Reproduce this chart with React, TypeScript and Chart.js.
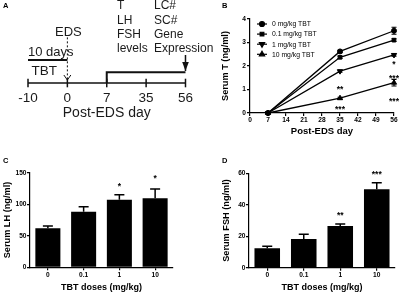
import React, { useEffect, useRef } from 'react';
import { Chart, registerables } from 'chart.js';
import { drawPoint } from 'chart.js/helpers';

Chart.register(...registerables);

const FONT = 'Arial, "Liberation Sans", Helvetica, sans-serif';

// ---------- Panel A: study timeline ----------
const timelineDays = ['-10', '0', '7', '35', '56'];
const tbtStartDay = '-10';
const edsDay = '0';
const sampleStartDay = '7';
const sampleEndDay = '56';

// ---------- Panel B: serum T time course ----------
const bDays = [7, 35, 56];
const bSeriesLabels = ['0 mg/kg TBT', '0.1 mg/kg TBT', '1 mg/kg TBT', '10 mg/kg TBT'];
const serumT_0 = [0, 2.62, 3.5];
const serumT_01 = [0, 2.37, 3.1];
const serumT_1 = [0, 1.78, 2.47];
const serumT_10 = [0, 0.63, 1.29];
const serumTErr_0 = [0, 0.05, 0.15];
const serumTErr_01 = [0, 0.05, 0.06];
const serumTErr_1 = [0, 0.04, 0.05];
const serumTErr_10 = [0, 0.04, 0.14];
const bStarDays = [35, 35, 56, 56, 56];
const bStarLevels = [1.09, 0.27, 2.18, 1.57, 0.58];
const bStarText = ['**', '***', '*', '***', '***'];

// ---------- Panels C & D: LH and FSH ----------
const doseLabels = ['0', '0.1', '1', '10'];
const serumLH = [62, 88, 107, 109.5];
const serumLHErr = [3.5, 8, 8, 14.5];
const lhStarText = ['', '', '*', '*'];
const lhStarLevels = [0, 0, 132, 144];
const serumFSH = [12.3, 18.2, 26.5, 49.8];
const serumFSHErr = [1.4, 3, 1.3, 4.2];
const fshStarText = ['', '', '**', '***'];
const fshStarLevels = [0, 0, 34.6, 60.7];

// ---------- plugins ----------
const arrowHeadPlugin = {
  id: 'arrowHeads',
  afterDatasetsDraw(chart: any) {
    const ctx = chart.ctx;
    chart.data.datasets.forEach((ds: any, i: number) => {
      if (!ds.arrowHead) return;
      const pts = chart.getDatasetMeta(i).data;
      const tip = pts[pts.length - 1];
      const prev = pts[pts.length - 2];
      const ang = Math.atan2(tip.y - prev.y, tip.x - prev.x);
      const filled = ds.arrowHead === 'filled';
      const len = filled ? 9 : 5;
      const half = filled ? 3.3 : 3.5;
      ctx.save();
      ctx.translate(tip.x, tip.y);
      ctx.rotate(ang);
      ctx.beginPath();
      ctx.moveTo(-len, -half);
      ctx.lineTo(0, 0);
      ctx.lineTo(-len, half);
      ctx.strokeStyle = ds.borderColor;
      ctx.fillStyle = ds.borderColor;
      ctx.lineWidth = 1;
      if (filled) {
        ctx.closePath();
        ctx.fill();
      } else {
        ctx.stroke();
      }
      ctx.restore();
    });
  },
};

const errorBarPlugin = {
  id: 'errorBars',
  afterDatasetsDraw(chart: any) {
    const ctx = chart.ctx;
    const ys = chart.scales.y;
    chart.data.datasets.forEach((ds: any, i: number) => {
      if (!ds.errors) return;
      const meta = chart.getDatasetMeta(i);
      meta.data.forEach((el: any, j: number) => {
        const err = ds.errors[j];
        if (!err) return;
        const raw = ds.data[j];
        const v = typeof raw === 'number' ? raw : raw.y;
        const top = ys.getPixelForValue(v + err);
        const bot = ds.errorBoth ? ys.getPixelForValue(v - err) : el.y;
        const cw = ds.capWidth || 5;
        ctx.save();
        ctx.strokeStyle = '#000';
        ctx.lineWidth = ds.errorWidth || 1.4;
        ctx.beginPath();
        ctx.moveTo(el.x, bot);
        ctx.lineTo(el.x, top);
        ctx.moveTo(el.x - cw / 2, top);
        ctx.lineTo(el.x + cw / 2, top);
        if (ds.errorBoth) {
          ctx.moveTo(el.x - cw / 2, bot);
          ctx.lineTo(el.x + cw / 2, bot);
        }
        ctx.stroke();
        ctx.restore();
      });
    });
  },
};

function makeStarsPlugin(xs: number[], levels: number[], texts: string[], size: number) {
  return {
    id: 'stars',
    afterDatasetsDraw(chart: any) {
      const ctx = chart.ctx;
      ctx.save();
      ctx.fillStyle = '#000';
      ctx.font = `bold ${size}px ${FONT}`;
      ctx.textAlign = 'center';
      ctx.textBaseline = 'alphabetic';
      texts.forEach((t, i) => {
        if (!t) return;
        const px = chart.scales.x.getPixelForValue(xs[i]);
        const py = chart.scales.y.getPixelForValue(levels[i]);
        ctx.fillText(t, px, py + size * 0.57);
      });
      ctx.restore();
    },
  };
}

const seriesLegendPlugin = {
  id: 'seriesLegend',
  afterDraw(chart: any) {
    const ctx = chart.ctx;
    const { left, top } = chart.chartArea;
    ctx.save();
    chart.data.datasets.forEach((ds: any, i: number) => {
      const y = top + 5 + i * 10.1;
      ctx.strokeStyle = '#000';
      ctx.fillStyle = '#000';
      ctx.lineWidth = 1.2;
      ctx.beginPath();
      ctx.moveTo(left + 7, y);
      ctx.lineTo(left + 17, y);
      ctx.stroke();
      drawPoint(ctx, { pointStyle: ds.pointStyle, rotation: ds.pointRotation || 0, radius: ds.pointRadius, borderWidth: 1 }, left + 12, y);
      ctx.font = `6.8px ${FONT}`;
      ctx.textBaseline = 'middle';
      ctx.textAlign = 'left';
      ctx.fillText(ds.label, left + 22, y + 0.5);
    });
    ctx.restore();
  },
};

// ---------- shared axis styling ----------
const tickFont = { family: FONT, size: 6.6, weight: 'bold' as const };
const titleFont = (size: number) => ({ family: FONT, size, weight: 'bold' as const });
const axisBase = () => ({
  border: { display: true, color: '#000', width: 1.2 },
  grid: { display: true, drawOnChartArea: false, drawTicks: true, tickLength: 3, color: '#000', lineWidth: 1.2, offset: false },
});

function useChart(ref: React.RefObject<HTMLCanvasElement>, build: () => any) {
  useEffect(() => {
    if (!ref.current) return;
    const chart = new Chart(ref.current, build());
    return () => chart.destroy();
  }, []);
}

const ix = (d: string) => timelineDays.indexOf(d);

function PanelA() {
  const ref = useRef<HTMLCanvasElement>(null);
  useChart(ref, () => {
    const tbtLevel = 2.77;
    const edsTop = 5.5;
    const edsTip = 0.36;
    const bracketLevel = 1.29;
    const sampleTop = 3.37;
    const sampleTip = 1.45;
    const black = '#111';
    return {
      type: 'line',
      data: {
        datasets: [
          {
            data: timelineDays.map((d) => ({ x: ix(d), y: 0 })),
            borderColor: black, borderWidth: 1.6, pointStyle: 'line', pointRotation: 90,
            pointRadius: 4.3, pointBorderWidth: 1.5, pointBorderColor: black, clip: false,
          },
          {
            data: [{ x: ix(tbtStartDay), y: tbtLevel }, { x: ix(edsDay), y: tbtLevel }],
            borderColor: black, borderWidth: 1.8, pointRadius: 0, clip: false,
          },
          {
            data: [{ x: ix(edsDay), y: edsTop }, { x: ix(edsDay), y: edsTip }],
            borderColor: black, borderWidth: 1, borderDash: [2, 2], pointRadius: 0, clip: false, arrowHead: 'open',
          },
          {
            data: [{ x: ix(sampleStartDay), y: 0 }, { x: ix(sampleStartDay), y: bracketLevel }, { x: ix(sampleEndDay), y: bracketLevel }],
            borderColor: black, borderWidth: 2, pointRadius: 0, clip: false,
          },
          {
            data: [{ x: ix(sampleEndDay), y: sampleTop }, { x: ix(sampleEndDay), y: sampleTip }],
            borderColor: black, borderWidth: 1.5, pointRadius: 0, clip: false, arrowHead: 'filled',
          },
        ],
      },
      options: {
        animation: false, responsive: false, devicePixelRatio: 1,
        layout: { autoPadding: false, padding: { left: 28, right: 10, top: 0, bottom: 0 } },
        plugins: { legend: { display: false }, tooltip: { enabled: false } },
        scales: {
          x: {
            type: 'linear', min: 0, max: timelineDays.length - 1,
            grid: { display: false, drawTicks: false, tickLength: 0 }, border: { display: false },
            afterBuildTicks: (s: any) => { s.ticks = timelineDays.map((_, i) => ({ value: i })); },
            afterFit: (s: any) => { s.height = 42; },
            ticks: {
              color: '#1a1a1a', font: { family: FONT, size: 13.5 }, padding: 7, maxRotation: 0, autoSkip: false,
              callback: (v: any) => timelineDays[v] ?? '',
            },
            title: { display: true, text: 'Post-EDS day', color: '#1a1a1a', font: { family: FONT, size: 14 }, padding: { top: 0, bottom: 3.6 } },
          },
          y: { display: false, min: 0, max: 10 },
        },
      },
      plugins: [arrowHeadPlugin],
    };
  });
  return <canvas ref={ref} width={200} height={125} style={{ position: 'absolute', left: 0, top: 0, display: 'block' }} />;
}

function PanelB() {
  const ref = useRef<HTMLCanvasElement>(null);
  useChart(ref, () => {
    const series = [serumT_0, serumT_01, serumT_1, serumT_10];
    const errs = [serumTErr_0, serumTErr_01, serumTErr_1, serumTErr_10];
    const styles = [
      { pointStyle: 'circle', pointRotation: 0, pointRadius: 2.5 },
      { pointStyle: 'rect', pointRotation: 0, pointRadius: 2.6 },
      { pointStyle: 'triangle', pointRotation: 180, pointRadius: 3 },
      { pointStyle: 'triangle', pointRotation: 0, pointRadius: 3 },
    ];
    const ax = axisBase();
    return {
      type: 'line',
      data: {
        datasets: series.map((vals, k) => ({
          label: bSeriesLabels[k],
          data: vals.map((v, i) => ({ x: bDays[i], y: v })),
          errors: errs[k], errorBoth: true, capWidth: 5, errorWidth: 1.1,
          borderColor: '#000', backgroundColor: '#000', borderWidth: 1.3,
          pointBackgroundColor: '#000', pointBorderColor: '#000', pointBorderWidth: 1,
          clip: false,
          ...styles[k],
        })),
      },
      options: {
        animation: false, responsive: false, devicePixelRatio: 1,
        layout: { autoPadding: false, padding: { left: 0, right: 6, top: 19, bottom: 0 } },
        plugins: { legend: { display: false }, tooltip: { enabled: false } },
        scales: {
          x: {
            type: 'linear', min: 0, max: 56, ...ax,
            afterFit: (s: any) => { s.height = 32; },
            ticks: { color: '#000', font: tickFont, padding: 0.5, stepSize: 7, maxRotation: 0, autoSkip: false },
            title: { display: true, text: 'Post-EDS day', color: '#000', font: titleFont(9.5), padding: { top: 0, bottom: 7.8 } },
          },
          y: {
            min: 0, max: 4, ...ax,
            afterFit: (s: any) => { s.width = 50; },
            ticks: { color: '#000', font: tickFont, padding: 1, stepSize: 1 },
            title: { display: true, text: 'Serum T (ng/ml)', color: '#000', font: titleFont(9.2), padding: { top: 19.6, bottom: 0 } },
          },
        },
      },
      plugins: [errorBarPlugin, makeStarsPlugin(bStarDays, bStarLevels, bStarText, 8.5), seriesLegendPlugin],
    };
  });
  return <canvas ref={ref} width={200} height={145} style={{ position: 'absolute', left: 200, top: 0, display: 'block' }} />;
}

function barConfig(values: number[], errors: number[], starText: string[], starLevels: number[], max: number, step: number,
  yTitle: string, yWidth: number, yTitlePad: number, pad: { top: number; right: number }, xHeight: number) {
  const ax = axisBase();
  return {
    type: 'bar',
    data: {
      labels: doseLabels,
      datasets: [{
        data: values, errors, capWidth: 10, errorWidth: 1.5,
        backgroundColor: '#000', borderWidth: 0, barPercentage: 0.7, categoryPercentage: 1,
      }],
    },
    options: {
      animation: false, responsive: false, devicePixelRatio: 1,
      layout: { autoPadding: false, padding: { left: 0, right: pad.right, top: pad.top, bottom: 0 } },
      plugins: { legend: { display: false }, tooltip: { enabled: false } },
      scales: {
        x: {
          ...ax,
          afterFit: (s: any) => { s.height = xHeight; },
          ticks: { color: '#000', font: tickFont, padding: 0.7, maxRotation: 0, autoSkip: false },
          title: { display: true, text: 'TBT doses (mg/kg)', color: '#000', font: titleFont(9), padding: { top: 0, bottom: 0 } },
        },
        y: {
          min: 0, max, ...ax,
          afterFit: (s: any) => { s.width = yWidth; },
          ticks: { color: '#000', font: tickFont, padding: 0.5, stepSize: step },
          title: { display: true, text: yTitle, color: '#000', font: titleFont(9.2), padding: { top: yTitlePad, bottom: 0 } },
        },
      },
    },
    plugins: [errorBarPlugin, makeStarsPlugin(doseLabels.map((_, i) => i), starLevels, starText, 8.5)],
  };
}

function PanelC() {
  const ref = useRef<HTMLCanvasElement>(null);
  useChart(ref, () => barConfig(serumLH, serumLHErr, lhStarText, lhStarLevels, 150, 50, 'Serum LH (ng/ml)', 30, 1.6, { top: 27.7, right: 27 }, 25.7));
  return <canvas ref={ref} width={200} height={148} style={{ position: 'absolute', left: 0, top: 145, display: 'block' }} />;
}

function PanelD() {
  const ref = useRef<HTMLCanvasElement>(null);
  useChart(ref, () => barConfig(serumFSH, serumFSHErr, fshStarText, fshStarLevels, 60, 20, 'Serum FSH (ng/ml)', 49, 21.3, { top: 28.3, right: 5 }, 25.3));
  return <canvas ref={ref} width={200} height={148} style={{ position: 'absolute', left: 200, top: 145, display: 'block' }} />;
}

function Label(props: { left: number; top: number; size: number; bold?: boolean; lh?: number; children: React.ReactNode }) {
  return (
    <div style={{
      position: 'absolute', left: props.left, top: props.top, fontSize: props.size,
      lineHeight: `${props.lh ?? props.size}px`, fontWeight: props.bold ? 'bold' : 'normal',
      whiteSpace: 'pre', color: props.bold ? '#000' : '#1a1a1a', fontFamily: FONT,
    }}>{props.children}</div>
  );
}

export default function App() {
  return (
    <div style={{ position: 'fixed', left: 0, top: 0, width: 400, height: 293, background: '#fff', overflow: 'hidden', fontFamily: FONT }}>
      <PanelA />
      <PanelB />
      <PanelC />
      <PanelD />
      <Label left={3} top={2} size={7.5} bold>A</Label>
      <Label left={222} top={1.7} size={7.5} bold>B</Label>
      <Label left={3} top={157} size={7.5} bold>C</Label>
      <Label left={222} top={156.7} size={7.5} bold>D</Label>
      <Label left={117} top={-1.9} size={12} lh={14.4}>{'T\nLH\nFSH\nlevels'}</Label>
      <Label left={154} top={-1.9} size={12} lh={14.4}>{'LC#\nSC#\nGene\nExpression'}</Label>
      <Label left={55} top={25} size={13}>EDS</Label>
      <Label left={28} top={44.5} size={13}>10 days</Label>
      <Label left={31.5} top={64.3} size={13.5}>TBT</Label>
    </div>
  );
}
